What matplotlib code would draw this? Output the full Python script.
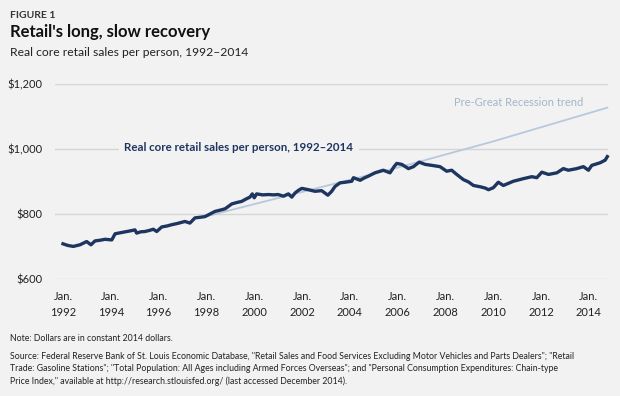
import matplotlib
matplotlib.use("Agg")
import matplotlib.pyplot as plt

plt.rcParams['font.family'] = ['Lato', 'DejaVu Sans']

# monthly-ish readings of real core retail sales per person
year = [1992.0, 1992.2, 1992.43, 1992.71, 1992.99, 1993.17, 1993.34, 1993.55, 1993.76,
        1994.04, 1994.18, 1994.46, 1994.75, 1995.01, 1995.08, 1995.25, 1995.43, 1995.6,
        1995.78, 1995.92, 1996.13, 1996.35, 1996.55, 1996.8, 1997.1, 1997.31, 1997.52,
        1997.75, 1997.94, 1998.15, 1998.36, 1998.58, 1998.78, 1999.06, 1999.25, 1999.48,
        1999.65, 1999.82, 1999.92, 2000.0, 2000.1, 2000.35, 2000.6, 2000.8, 2001.0,
        2001.22, 2001.43, 2001.57, 2001.71, 2001.85, 2001.99, 2002.26, 2002.54, 2002.82,
        2003.08, 2003.24, 2003.38, 2003.59, 2003.8, 2004.08, 2004.15, 2004.43, 2004.6,
        2004.78, 2005.05, 2005.4, 2005.68, 2005.85, 2005.96, 2006.17, 2006.45, 2006.66,
        2006.9, 2007.15, 2007.43, 2007.77, 2008.05, 2008.26, 2008.47, 2008.75, 2008.96,
        2009.17, 2009.45, 2009.66, 2009.8, 2010.0, 2010.21, 2010.42, 2010.84, 2011.26,
        2011.61, 2011.82, 2012.03, 2012.31, 2012.66, 2012.93, 2013.14, 2013.49, 2013.77,
        2013.98, 2014.12, 2014.47, 2014.68, 2014.77]
sales = [707, 702, 699, 704, 714, 704, 716, 718, 721,
         719, 738, 742, 746, 750, 740, 744, 745, 748,
         752, 745, 759, 762, 766, 770, 776, 771, 787,
         789, 791, 799, 807, 811, 815, 830, 834, 838,
         845, 851, 861, 849, 861, 858, 859, 858, 859,
         854, 861, 851, 864, 872, 878, 874, 869, 871,
         857, 869, 884, 895, 897, 900, 911, 903, 910,
         916, 926, 934, 926, 945, 955, 952, 939, 945,
         959, 952, 949, 945, 931, 934, 921, 905, 898,
         887, 883, 879, 874, 880, 897, 887, 900, 908,
         914, 911, 928, 921, 926, 939, 934, 939, 945,
         934, 949, 957, 965, 976]

trend_year = [1997.9, 2002.0, 2006.0, 2010.0, 2014.77]
trend_val = [790, 867, 942, 1023, 1127]

tick_years = [1992, 1994, 1996, 1998, 2000, 2002, 2004, 2006, 2008, 2010, 2012, 2014]
y_ticks = [600, 800, 1000, 1200]
y_labels = ['$600', '$800', '$1,000', '$1,200']

bg = '#f2f2f2'
navy = '#1d355f'
light = '#b7c9db'

fig = plt.figure(figsize=(6.2, 3.96), dpi=100, facecolor=bg)
ax = fig.add_axes([0.0887, 0.2967, 0.892, 0.4912])
ax.set_facecolor(bg)

ax.plot(trend_year, trend_val, color=light, lw=1.3, zorder=2, clip_on=False)
ax.plot(year, sales, color=navy, lw=2.4, zorder=3, clip_on=False,
        solid_joinstyle='round')

ax.set_xlim(1991.665, 2014.80)
ax.set_ylim(600, 1200)
ax.set_yticks(y_ticks)
ax.set_yticklabels(y_labels)
ax.set_xticks(tick_years)
ax.set_xticklabels(['Jan.\n%d' % y for y in tick_years], linespacing=1.6)
ax.grid(axis='y', color='#d6d6d6', lw=1)
ax.set_axisbelow(True)
for s in ax.spines.values():
    s.set_visible(False)
ax.tick_params(axis='both', length=0, labelsize=8, colors='#222222')
ax.tick_params(axis='y', pad=9)
ax.tick_params(axis='x', pad=9)

ax.text(1999.36, 1005, 'Real core retail sales per person, 1992\u20132014', color=navy,
        fontsize=8.3, fontweight='bold', ha='center', va='center', zorder=4,
        bbox=dict(facecolor=bg, edgecolor='none', pad=4))
ax.text(2011.06, 1143, 'Pre-Great Recession trend', color='#a3b6ca', fontsize=8,
        ha='center', va='center')

fig.text(0.016, 0.962, 'FIGURE 1', fontsize=7.5, fontweight='bold', color='#333333',
         va='center')
fig.text(0.016, 0.918, "Retail's long, slow recovery", fontsize=12, fontweight='bold',
         color='#111111', va='center')
fig.text(0.016, 0.868, 'Real core retail sales per person, 1992\u20132014', fontsize=8.7,
         color='#222222', va='center')

fig.text(0.016, 0.146, 'Note: Dollars are in constant 2014 dollars.', fontsize=6.3,
         color='#222222', va='center')
fig.text(0.016, 0.068,
         'Source: Federal Reserve Bank of St. Louis Economic Database, "Retail Sales and Food '
         'Services Excluding Motor Vehicles and Parts Dealers"; "Retail\n'
         'Trade: Gasoline Stations"; "Total Population: All Ages including Armed Forces '
         'Overseas"; and "Personal Consumption Expenditures: Chain-type\n'
         'Price Index," available at http://research.stlouisfed.org/ (last accessed '
         'December 2014).',
         fontsize=6.3, color='#222222', va='center', linespacing=1.45)

fig.savefig('out.png', dpi=100, facecolor=bg)
